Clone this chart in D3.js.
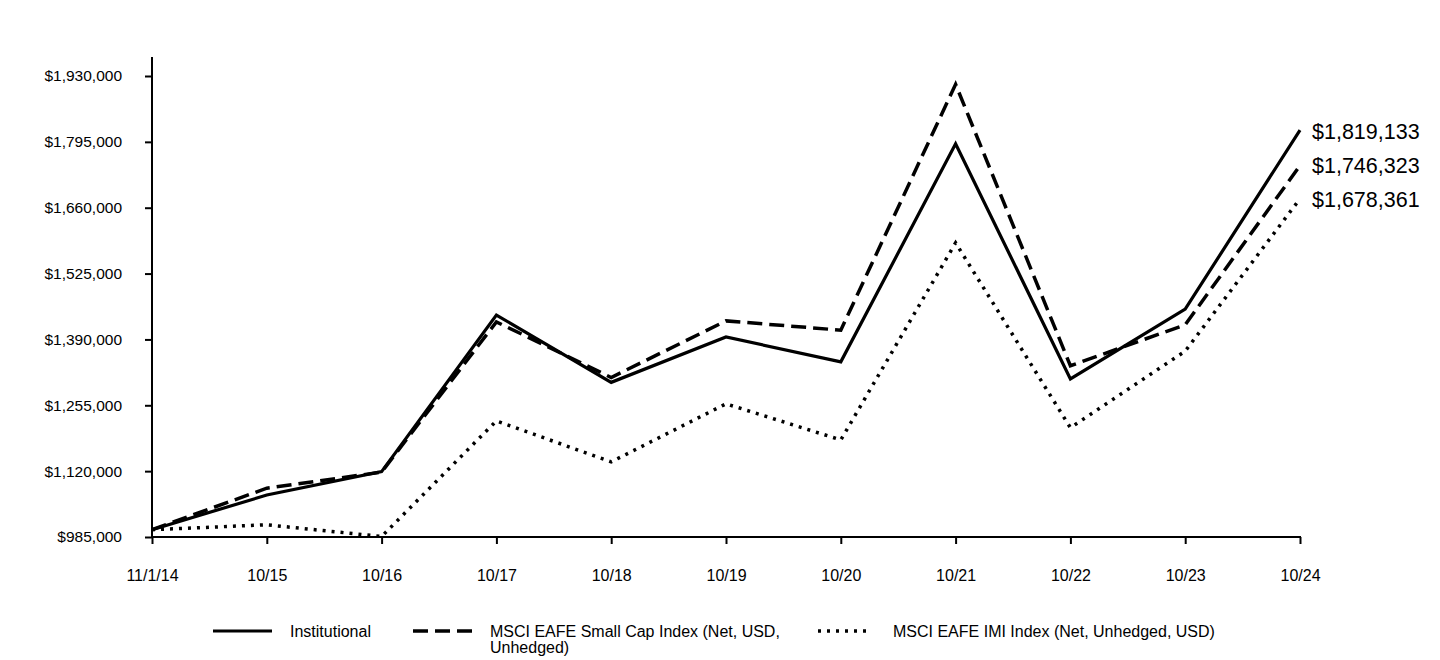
<!DOCTYPE html>
<html><head><meta charset="utf-8">
<script src="https://cdn.jsdelivr.net/npm/d3@7"></script>
<style>body{margin:0;background:#fff}svg{display:block}text{font-family:"Liberation Sans",Arial,sans-serif;fill:#000}</style>
</head><body><svg id="c" width="1440" height="660"></svg>
<script>
const categories = ["11/1/14","10/15","10/16","10/17","10/18","10/19","10/20","10/21","10/22","10/23","10/24"];
const institutional = [1000000,1071000,1119000,1440000,1302000,1395000,1344000,1791000,1309000,1452000,1819133];
const smallCap = [1000000,1085000,1118000,1426000,1312000,1428000,1409000,1913000,1336000,1420000,1746323];
const imi = [1000000,1010000,986000,1223000,1139000,1258000,1184000,1588000,1209000,1366000,1678361];
const yTicks = [985000,1120000,1255000,1390000,1525000,1660000,1795000,1930000];
const seriesNames = ["Institutional","MSCI EAFE Small Cap Index (Net, USD, Unhedged)","MSCI EAFE IMI Index (Net, Unhedged, USD)"];
const endLabels = ["$1,819,133","$1,746,323","$1,678,361"];

const svg = d3.select("#c");
const x = d3.scalePoint().domain(categories).range([152,1300]);
const y = d3.scaleLinear().domain([985000,1930000]).range([537,76]);

// y axis
const ya = svg.append("g").attr("transform","translate(152,0)")
  .call(d3.axisLeft(y).tickValues(yTicks).tickSize(7).tickPadding(23).tickFormat(d=>"$"+d3.format(",")(d)));
ya.select(".domain").remove();
ya.selectAll(".tick line").attr("stroke","#000").attr("stroke-width",2);
ya.selectAll("text").style("font-size","15.5px");
svg.append("line").attr("x1",152).attr("x2",152).attr("y1",57).attr("y2",538).attr("stroke","#000").attr("stroke-width",2);

// x axis
const xa = svg.append("g").attr("transform","translate(0,537)")
  .call(d3.axisBottom(x).tickSize(7).tickPadding(26));
xa.select(".domain").remove();
xa.selectAll(".tick line").attr("stroke","#000").attr("stroke-width",2);
xa.selectAll("text").style("font-size","16px");
svg.append("line").attr("x1",151).attr("x2",1301).attr("y1",537).attr("y2",537).attr("stroke","#000").attr("stroke-width",2);

const styles = [
  {dash:null, w:3.2},
  {dash:"15,7", w:3.5},
  {dash:"3,6", w:3.5}
];
const data = [institutional, smallCap, imi];
const line = d3.line().x((d,i)=>x(categories[i])).y(d=>y(d));
[2,1,0].forEach(k=>{
  svg.append("path").datum(data[k]).attr("d",line).attr("fill","none")
    .attr("stroke","#000").attr("stroke-width",styles[k].w)
    .attr("stroke-dasharray",styles[k].dash).attr("stroke-linejoin","miter");
});

// end labels
const endY = [131,165,199];
endLabels.forEach((t,i)=>{
  svg.append("text").attr("x",1312).attr("y",endY[i]).attr("dy","0.35em").style("font-size","21.5px").text(t);
});

// legend
const lg = [
  {x1:213,x2:272},
  {x1:413,x2:472},
  {x1:818,x2:872}
];
lg.forEach((l,i)=>{
  svg.append("line").attr("x1",l.x1).attr("x2",l.x2).attr("y1",631).attr("y2",631)
    .attr("stroke","#000").attr("stroke-width",styles[i].w).attr("stroke-dasharray",styles[i].dash);
});
svg.append("text").attr("x",290).attr("y",637).style("font-size","16px").text(seriesNames[0]);
const t2 = svg.append("text").attr("x",490).attr("y",637).style("font-size","16px");
t2.append("tspan").attr("x",490).text("MSCI EAFE Small Cap Index (Net, USD,");
t2.append("tspan").attr("x",490).attr("dy",16).text("Unhedged)");
svg.append("text").attr("x",893).attr("y",637).style("font-size","16px").text(seriesNames[2]);
</script></body></html>
